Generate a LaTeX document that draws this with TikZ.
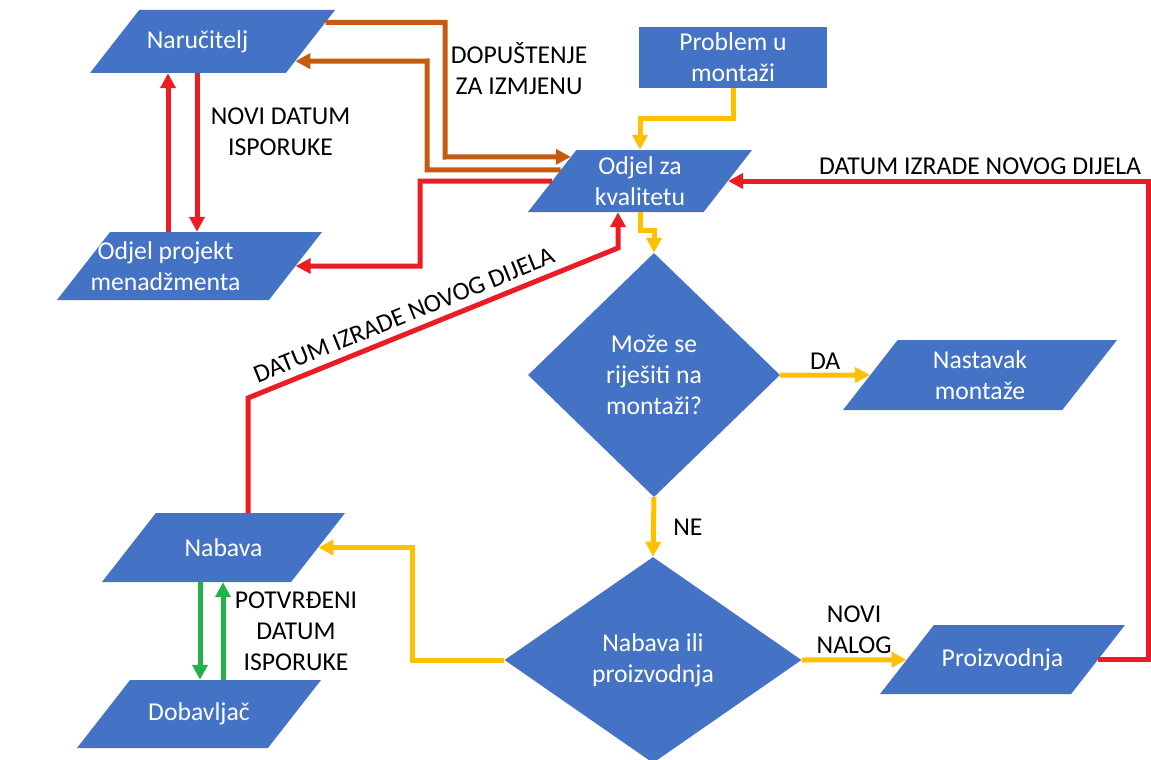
\documentclass[tikz,border=0pt]{standalone}
\usepackage{fontspec}
\setmainfont{Carlito}
\usetikzlibrary{shapes.geometric,arrows.meta,calc}
\definecolor{boxblue}{RGB}{68,114,196}
\definecolor{linered}{RGB}{236,28,36}
\definecolor{lineorange}{RGB}{197,90,17}
\definecolor{lineyellow}{RGB}{255,192,0}
\definecolor{linegreen}{RGB}{34,177,76}
\newcommand{\parabody}[3]{\parbox[c][#2pt][c]{#1pt}{\centering #3}}

\begin{document}
\begin{tikzpicture}[x=1pt, y=-1pt, font=\fontsize{25.7}{31}\selectfont,
    every text node part/.style={align=center},
    para/.style={trapezium, trapezium left angle=52, trapezium right angle=128, fill=boxblue, text=white, inner sep=0pt},
    dec/.style={diamond, fill=boxblue, text=white, inner sep=0pt},
    flow/.style={line width=5pt, -{Triangle[length=15pt,width=15pt]}},
    lbl/.style={text=black, align=left}]
    \useasboundingbox (0,0) rectangle (1151,760);

    \node[para] (naru) at (212.5,41.5) {\parabody{146.6}{63}{\hspace*{-30pt}Naručitelj}};
    \node[para] (opm) at (189.5,266) {\parabody{158.8}{68}{\hspace*{-48pt}Odjel projekt\\\hspace*{-48pt}menadžmenta}};
    \node[para] (kval) at (640,181) {\parabody{127.2}{62}{Odjel za\\kvalitetu}};
    \node[fill=boxblue, text=white, minimum width=188, minimum height=61] (prob) at (733,57.5) {Problem u\\montaži};
    \node[dec, minimum width=252, minimum height=244] (q1) at (654,375) {Može se\\riješiti na\\montaži?};
    \node[para] (nast) at (980,375) {\parabody{164.6}{70}{Nastavak\\montaže}};
    \node[dec, minimum width=297, minimum height=206] (q2) at (653,660) {Nabava ili\\proizvodnja};
    \node[para] (proz) at (1002.5,659.5) {\parabody{137.2}{69}{Proizvodnja}};
    \node[para] (nab) at (223.5,547.5) {\parabody{135.2}{69}{Nabava}};
    \node[para] (dob) at (199,714) {\parabody{137.8}{68}{Dobavljač}};

    \draw[flow, linered] (168,0 |- opm.north) -- (168,0 |- naru.south);
    \draw[flow, linered] (197,0 |- naru.south) -- (197,0 |- opm.north) node[lbl, pos=0.37, right=8pt] {NOVI DATUM\\ISPORUKE};

    \draw[flow, lineorange] ($(naru.top right corner)!0.2!(naru.bottom right corner)$) -| (445,157) node[lbl, pos=0.67, right] {DOPUŠTENJE\\ZA IZMJENU} -- ($(kval.top left corner)!0.113!(kval.bottom left corner)$);
    \draw[flow, lineorange] ($(kval.top left corner)!0.32!(kval.bottom left corner)$) -| (427,61) -- ($(naru.top right corner)!0.81!(naru.bottom right corner)$);
    \draw[flow, linered] (kval.west) -| (420,266) -- (opm.east);

    \draw[flow, lineyellow] (prob.south) -- ++(0,30) -| (kval.north);
    \draw[flow, lineyellow] (kval.south) -- ++(0,18) -| (q1.north);
    \draw[flow, linered] (nab.north -| 248,0) -- (248,398) -- (618,248) node[lbl, pos=0.44, above=4pt, sloped] {DATUM IZRADE NOVOG DIJELA} -- (618,0 |- kval.south);
    \draw[flow, linered] (proz.east) -- (1148,0 |- proz.east) |- (kval.east) node[lbl, pos=0.7, above] {DATUM IZRADE NOVOG DIJELA};

    \draw[flow, lineyellow] (q1.east) -- (nast) node[lbl, midway, above] {DA};
    \draw[flow, lineyellow] (q1.south) -- (q2.north) node[lbl, midway, right=14pt] {NE};
    \draw[flow, lineyellow] (q2.east) -- (proz) node[lbl, midway, above] {NOVI\\NALOG};
    \draw[flow, lineyellow] (q2.west) -- ++(-92,0) |- (nab);

    \draw[flow, linegreen] (200,0 |- nab.south) -- (200,0 |- dob.north);
    \draw[flow, linegreen] (223,0 |- dob.north) -- (223,0 |- nab.south) node[lbl, midway, right=6pt] {POTVRĐENI\\DATUM\\ISPORUKE};
\end{tikzpicture}
\end{document}
